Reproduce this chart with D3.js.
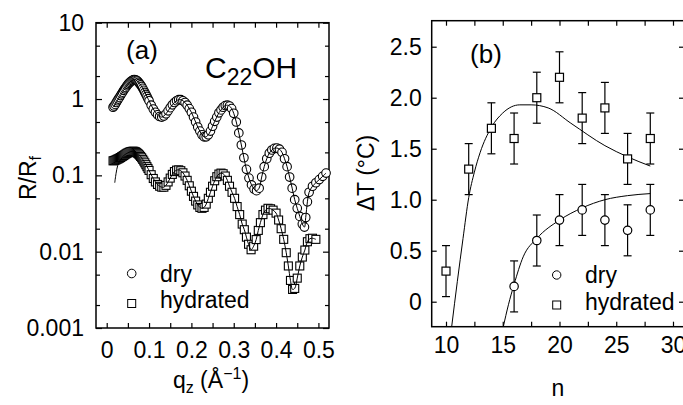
<!DOCTYPE html>
<html>
<head>
<meta charset="utf-8">
<script src="https://cdn.jsdelivr.net/npm/d3@7"></script>
<style>
  body { margin: 0; background: #fff; }
  svg { display: block; font-family: "Liberation Sans", Arial, sans-serif; }
</style>
</head>
<body>
<script>
// ---- panel (a): reflectivity R/Rf vs qz ----
var dryQ = [0.015,0.0175,0.02,0.0225,0.025,0.0275,0.03,0.0325,0.035,0.0375,0.04,0.0425,0.045,0.0475,0.05,0.0525,0.055,0.0575,0.06,0.0625,
  0.065,0.0675,0.07,0.0725,0.075,0.0775,0.08,0.0825,0.085,0.0875,0.09,0.0925,0.095,0.0975,0.10,0.105,0.11,
  0.115,0.12,0.125,0.13,0.135,0.14,0.145,0.15,0.155,0.16,0.165,0.17,0.175,0.18,0.185,0.19,0.195,0.20,0.205,0.21,
  0.215,0.22,0.225,0.23,0.235,0.24,0.245,0.25,0.255,0.26,0.265,0.27,0.275,0.28,0.285,0.29,0.295,0.30,0.306,0.312,
  0.318,0.324,0.33,0.336,0.342,0.348,0.354,0.36,0.366,0.372,0.378,0.384,0.39,0.396,0.402,0.408,0.414,0.42,0.426,0.432,
  0.438,0.444,0.45,0.456,0.462,0.467,0.47,0.474,0.478,0.486,0.494,0.502,0.51,0.518];
var dryR = [0.78,0.81,0.85,0.9,0.95,1.0,1.05,1.11,1.17,1.23,1.3,1.36,1.42,1.49,1.55,1.61,1.66,1.71,1.75,1.78,
  1.8,1.79,1.76,1.72,1.66,1.6,1.53,1.46,1.38,1.3,1.22,1.15,1.08,1.01,0.95,0.83,0.74,
  0.67,0.62,0.59,0.58,0.6,0.64,0.7,0.77,0.84,0.9,0.95,0.98,0.98,0.95,0.9,0.83,0.75,0.67,0.58,0.5,
  0.43,0.38,0.34,0.32,0.32,0.34,0.38,0.44,0.51,0.58,0.66,0.72,0.78,0.82,0.83,0.81,0.75,0.65,0.5,0.36,
  0.25,0.17,0.12,0.092,0.075,0.066,0.063,0.068,0.095,0.13,0.165,0.195,0.215,0.226,0.228,0.22,0.2,0.165,0.13,0.095,
  0.068,0.048,0.037,0.029,0.023,0.021,0.028,0.045,0.06,0.072,0.08,0.088,0.097,0.107];

var hydQ = [0.015,0.0175,0.02,0.0225,0.025,0.0275,0.03,0.0325,0.035,0.0375,0.04,0.0425,0.045,0.0475,0.05,0.0525,0.055,0.0575,0.06,0.0625,
  0.065,0.0675,0.07,0.0725,0.075,0.0775,0.08,0.0825,0.085,0.0875,0.09,0.0925,0.095,0.0975,0.10,0.105,0.11,
  0.115,0.12,0.125,0.13,0.135,0.14,0.145,0.15,0.155,0.16,0.165,0.17,0.175,0.18,0.185,0.19,0.195,0.20,0.205,0.21,
  0.215,0.22,0.225,0.23,0.235,0.24,0.245,0.25,0.255,0.26,0.265,0.27,0.275,0.28,0.285,0.29,0.296,0.302,0.308,0.314,
  0.32,0.325,0.33,0.335,0.341,0.347,0.353,0.358,0.363,0.369,0.375,0.381,0.387,0.393,0.40,0.406,0.412,0.418,0.424,0.429,
  0.434,0.439,0.444,0.45,0.456,0.462,0.468,0.474,0.48,0.486,0.494];
var hydR = [0.155,0.156,0.158,0.16,0.163,0.165,0.168,0.171,0.175,0.178,0.182,0.186,0.19,0.194,0.197,0.2,0.203,0.205,0.206,0.207,
  0.206,0.204,0.2,0.195,0.19,0.184,0.177,0.17,0.162,0.154,0.146,0.138,0.13,0.123,0.116,0.102,0.091,
  0.082,0.076,0.072,0.07,0.07,0.074,0.082,0.092,0.103,0.112,0.117,0.118,0.115,0.108,0.098,0.086,0.073,0.062,0.053,0.046,
  0.041,0.038,0.037,0.038,0.042,0.05,0.06,0.072,0.085,0.096,0.104,0.107,0.105,0.098,0.086,0.072,0.06,0.05,0.039,0.0306,
  0.023,0.0194,0.0155,0.0125,0.0106,0.0118,0.0144,0.019,0.024,0.0306,0.035,0.037,0.0365,0.035,0.032,0.026,0.02,0.0145,0.0097,0.0065,
  0.0042,0.0032,0.0033,0.0045,0.0065,0.0085,0.0105,0.0135,0.0148,0.015,0.0145];
// start of the hydrated fit curve, below the first data points
var hydLeadQ = [0.019,0.022,0.026,0.031,0.036];
var hydLeadR = [0.08,0.105,0.135,0.155,0.17];

var qMajor = [0,0.1,0.2,0.3,0.4,0.5];
var qAll = [0,0.05,0.1,0.15,0.2,0.25,0.3,0.35,0.4,0.45,0.5];
var rMajor = [0.001,0.01,0.1,1,10];
var rMinor = [0.002,0.005,0.02,0.05,0.2,0.5,2,5];

// ---- panel (b): delta T vs n ----
var hydN = [10,12,14,16,18,20,22,24,26,28];
var hydT = [0.3,1.3,1.7,1.6,2.0,2.2,1.8,1.9,1.4,1.6];
var dryN = [16,18,20,22,24,26,28];
var dryT = [0.15,0.6,0.8,0.9,0.8,0.7,0.9];
var errT = 0.25;
var hydFitN = [10.5,11,11.5,12,12.5,13,14,15,16.5,17.5,19,21,24,26,28];
var hydFitT = [-0.245,0.2,0.62,1.02,1.27,1.46,1.71,1.85,1.93,1.93,1.9,1.75,1.53,1.42,1.33];
var dryFitN = [15.05,15.5,16,16.8,18,20,22,24,26,28];
var dryFitT = [-0.245,-0.03,0.17,0.44,0.62,0.8,0.92,1.0,1.04,1.06];

var nAll = [10,12.5,15,17.5,20,22.5,25,27.5,30];
var nMajor = [10,15,20,25,30];
var tTicks = [0,0.5,1.0,1.5,2.0,2.5];

var svg = d3.select("body").append("svg")
  .attr("width", 683)
  .attr("height", 405);

var fs = 23;

// ================= panel (a) =================
var aL = 96, aR = 329, aT = 22.7, aB = 328;
var xA = d3.scaleLinear().domain([-0.0253, 0.525]).range([aL, aR]);
var yA = d3.scaleLog().domain([0.001, 10]).range([aB, aT]);

var gA = svg.append("g");

function styleAxis(g) {
  g.select(".domain").remove();
  g.selectAll("line").attr("stroke", "#000").attr("stroke-width", 1.2);
  g.selectAll("text").attr("font-size", fs).attr("font-family", null).attr("fill", "#000");
}

gA.append("g").attr("transform", `translate(0,${aB})`)
  .call(d3.axisBottom(xA).tickValues(qAll).tickSize(-5).tickPadding(14)
    .tickFormat(d => qMajor.some(m => Math.abs(m - d) < 1e-9) ? d3.format("")(d) : ""))
  .call(styleAxis);
gA.append("g").attr("transform", `translate(0,${aT})`)
  .call(d3.axisTop(xA).tickValues(qAll).tickSize(-5).tickFormat(""))
  .call(styleAxis);
gA.append("g").attr("transform", `translate(${aL},0)`)
  .call(d3.axisLeft(yA).tickValues(rMajor).tickSize(-6).tickPadding(12).tickFormat(d => d3.format("")(d)))
  .call(styleAxis);
gA.append("g").attr("transform", `translate(${aL},0)`)
  .call(d3.axisLeft(yA).tickValues(rMinor).tickSize(-4).tickFormat(""))
  .call(styleAxis);
gA.append("g").attr("transform", `translate(${aR},0)`)
  .call(d3.axisRight(yA).tickValues(rMajor).tickSize(-6).tickFormat(""))
  .call(styleAxis);
gA.append("g").attr("transform", `translate(${aR},0)`)
  .call(d3.axisRight(yA).tickValues(rMinor).tickSize(-4).tickFormat(""))
  .call(styleAxis);

gA.append("rect")
  .attr("x", aL).attr("y", aT)
  .attr("width", aR - aL).attr("height", aB - aT)
  .attr("fill", "none").attr("stroke", "#000").attr("stroke-width", 1.5);

var dryPts = dryQ.map((q, i) => [q, dryR[i]]);
var hydPts = hydQ.map((q, i) => [q, hydR[i]]);
var hydFitPts = hydLeadQ.map((q, i) => [q, hydLeadR[i]])
  .concat(hydPts.filter(d => d[0] >= 0.04));

var lineA = d3.line()
  .x(d => xA(d[0]))
  .y(d => yA(d[1]))
  .curve(d3.curveCatmullRom);

// hydrated squares
gA.selectAll("rect.hyd")
  .data(hydPts)
  .enter()
  .append("rect")
  .attr("class", "hyd")
  .attr("x", d => xA(d[0]) - 4)
  .attr("y", d => yA(d[1]) - 4)
  .attr("width", 8).attr("height", 8)
  .attr("fill", "#fff").attr("stroke", "#000").attr("stroke-width", 1.1);

gA.append("path")
  .datum(hydFitPts)
  .attr("d", lineA)
  .attr("fill", "none").attr("stroke", "#000").attr("stroke-width", 1);

// dry circles
gA.selectAll("circle.dry")
  .data(dryPts)
  .enter()
  .append("circle")
  .attr("class", "dry")
  .attr("cx", d => xA(d[0]))
  .attr("cy", d => yA(d[1]))
  .attr("r", 4.3)
  .attr("fill", "#fff").attr("stroke", "#000").attr("stroke-width", 1.1);

gA.append("path")
  .datum(dryPts)
  .attr("d", lineA)
  .attr("fill", "none").attr("stroke", "#000").attr("stroke-width", 1);

// labels panel (a)
gA.append("text").attr("x", 142).attr("y", 59).attr("text-anchor", "middle")
  .attr("font-size", 26).text("(a)");

var cText = gA.append("text").attr("x", 205).attr("y", 78).attr("font-size", 30);
cText.append("tspan").text("C");
cText.append("tspan").attr("font-size", 23).attr("dy", 7).text("22");
cText.append("tspan").attr("dy", -7).text("OH");

// legend (a)
gA.append("circle").attr("cx", 131.7).attr("cy", 273.5).attr("r", 4.3)
  .attr("fill", "#fff").attr("stroke", "#000");
gA.append("text").attr("x", 160).attr("y", 282).attr("font-size", fs).text("dry");
gA.append("rect").attr("x", 127.7).attr("y", 299.5).attr("width", 8).attr("height", 8)
  .attr("fill", "#fff").attr("stroke", "#000");
gA.append("text").attr("x", 160).attr("y", 308).attr("font-size", fs).text("hydrated");

// axis titles (a)
var rT = gA.append("text")
  .attr("transform", "translate(36,178) rotate(-90)")
  .attr("text-anchor", "middle")
  .attr("font-size", fs);
rT.append("tspan").text("R/R");
rT.append("tspan").attr("font-size", 16).attr("dy", 5).text("f");

var qT = gA.append("text")
  .attr("x", 211).attr("y", 388)
  .attr("text-anchor", "middle")
  .attr("font-size", fs);
qT.append("tspan").text("q");
qT.append("tspan").attr("font-size", 16).attr("dy", 5).text("z");
qT.append("tspan").attr("dy", -5).text("\u00a0(\u00c5");
qT.append("tspan").attr("font-size", 16).attr("dy", -9).text("\u22121");
qT.append("tspan").attr("dy", 9).text(")");

// ================= panel (b) =================
var bL = 431.7, bR = 684, bT = 20.7, bB = 326.7;
var xB = d3.scaleLinear().domain([8.74, 30.97]).range([bL, bR]);
var yB = d3.scaleLinear().domain([-0.245, 2.755]).range([bB, bT]);

var gB = svg.append("g");

gB.append("g").attr("transform", `translate(0,${bB})`)
  .call(d3.axisBottom(xB).tickValues(nAll).tickSize(-5).tickPadding(10)
    .tickFormat(d => nMajor.indexOf(d) >= 0 ? d : ""))
  .call(styleAxis);
gB.append("g").attr("transform", `translate(0,${bT})`)
  .call(d3.axisTop(xB).tickValues(nAll).tickSize(-5).tickFormat(""))
  .call(styleAxis);
gB.append("g").attr("transform", `translate(${bL},0)`)
  .call(d3.axisLeft(yB).tickValues(tTicks).tickSize(-5).tickPadding(10)
    .tickFormat(d => d === 0 ? "0" : d3.format(".1f")(d)))
  .call(styleAxis);
gB.append("g").attr("transform", `translate(${bR},0)`)
  .call(d3.axisRight(yB).tickValues(tTicks).tickSize(-5).tickFormat(""))
  .call(styleAxis);

gB.append("rect")
  .attr("x", bL).attr("y", bT)
  .attr("width", bR - bL).attr("height", bB - bT)
  .attr("fill", "none").attr("stroke", "#000").attr("stroke-width", 1.5);

var lineB = d3.line()
  .x(d => xB(d[0]))
  .y(d => yB(d[1]))
  .curve(d3.curveMonotoneX);

gB.append("path")
  .datum(hydFitN.map((n, i) => [n, hydFitT[i]]))
  .attr("d", lineB)
  .attr("fill", "none").attr("stroke", "#000").attr("stroke-width", 1);
gB.append("path")
  .datum(dryFitN.map((n, i) => [n, dryFitT[i]]))
  .attr("d", lineB)
  .attr("fill", "none").attr("stroke", "#000").attr("stroke-width", 1);

function errorBars(ns, ts) {
  var g = gB.append("g").attr("stroke", "#000").attr("stroke-width", 1.2);
  g.selectAll("line.v").data(ns).enter().append("line")
    .attr("x1", d => xB(d)).attr("x2", d => xB(d))
    .attr("y1", (d, i) => yB(ts[i] - errT)).attr("y2", (d, i) => yB(ts[i] + errT));
  g.selectAll("line.top").data(ns).enter().append("line")
    .attr("x1", d => xB(d) - 4).attr("x2", d => xB(d) + 4)
    .attr("y1", (d, i) => yB(ts[i] + errT)).attr("y2", (d, i) => yB(ts[i] + errT));
  g.selectAll("line.bot").data(ns).enter().append("line")
    .attr("x1", d => xB(d) - 4).attr("x2", d => xB(d) + 4)
    .attr("y1", (d, i) => yB(ts[i] - errT)).attr("y2", (d, i) => yB(ts[i] - errT));
}
errorBars(hydN, hydT);
errorBars(dryN, dryT);

gB.selectAll("rect.hydb")
  .data(hydN)
  .enter()
  .append("rect")
  .attr("class", "hydb")
  .attr("x", d => xB(d) - 4)
  .attr("y", (d, i) => yB(hydT[i]) - 4)
  .attr("width", 8).attr("height", 8)
  .attr("fill", "#fff").attr("stroke", "#000").attr("stroke-width", 1.2);

gB.selectAll("circle.dryb")
  .data(dryN)
  .enter()
  .append("circle")
  .attr("class", "dryb")
  .attr("cx", d => xB(d))
  .attr("cy", (d, i) => yB(dryT[i]))
  .attr("r", 4.2)
  .attr("fill", "#fff").attr("stroke", "#000").attr("stroke-width", 1.2);

gB.append("text").attr("x", 486).attr("y", 63).attr("text-anchor", "middle")
  .attr("font-size", 26).text("(b)");

// legend (b)
gB.append("circle").attr("cx", 556.7).attr("cy", 275).attr("r", 4.2)
  .attr("fill", "#fff").attr("stroke", "#000");
gB.append("text").attr("x", 585).attr("y", 283).attr("font-size", fs).text("dry");
gB.append("rect").attr("x", 552.7).attr("y", 301).attr("width", 8).attr("height", 8)
  .attr("fill", "#fff").attr("stroke", "#000");
gB.append("text").attr("x", 585).attr("y", 310).attr("font-size", fs).text("hydrated");

// axis titles (b)
gB.append("text")
  .attr("transform", "translate(374,173) rotate(-90)")
  .attr("text-anchor", "middle")
  .attr("font-size", fs)
  .text("\u0394T (\u00b0C)");
gB.append("text")
  .attr("x", 558).attr("y", 396)
  .attr("text-anchor", "middle")
  .attr("font-size", fs)
  .text("n");
</script>
</body>
</html>
